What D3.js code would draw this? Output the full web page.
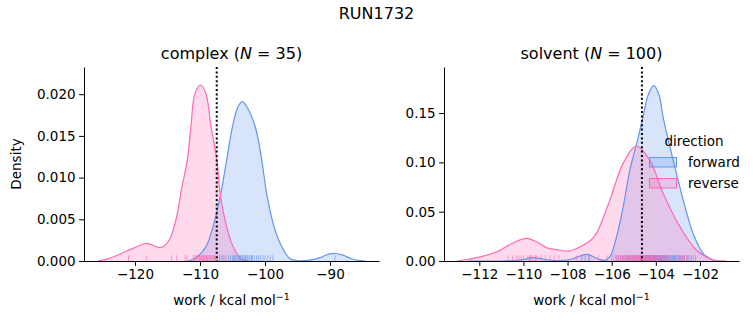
<!DOCTYPE html>
<html>
<head>
<meta charset="utf-8">
<script src="https://cdn.jsdelivr.net/npm/d3@7"></script>
<style>
 body { margin:0; background:#fff; }
 text { font-family: "DejaVu Sans", sans-serif; fill:#000; }
</style>
</head>
<body>
<script>
var complexFwdX=[-112.0,-110.8,-109.1,-108.0,-106.8,-105.9,-105.0,-104.2,-103.5,-102.8,-101.5,-100.5,-99.75,-98.6,-97.4,-96.2,-95.0,-93.0,-91.5,-90.3,-89.2,-88.0,-86.8,-85.5,-84.5]
var complexFwdY=[0,0.0003,0.0017,0.0041,0.0081,0.0121,0.0161,0.0184,0.0191,0.0185,0.0161,0.0121,0.0081,0.0041,0.0017,0.0003,0.00003,0.0001,0.0004,0.0008,0.0009,0.0007,0.0003,0.00005,0]
var complexRevX=[-125.7,-124.5,-123.0,-121.3,-120.0,-118.4,-117.3,-116.3,-115.5,-114.6,-113.6,-112.8,-111.95,-111.4,-110.77,-109.9,-109.1,-108.3,-107.4,-106.9,-105.9,-104.9,-104.0,-103.3,-102.5]
var complexRevY=[0,0.0002,0.0006,0.0012,0.0016,0.0021,0.0019,0.0016,0.0018,0.0027,0.0053,0.0088,0.0121,0.0161,0.0201,0.0211,0.0201,0.0161,0.0121,0.0081,0.0041,0.0017,0.0005,0.0001,0]

var solventFwdX=[-112.5,-110.5,-110.0,-109.56,-109.0,-108.4,-107.8,-107.14,-106.6,-106.35,-106.08,-105.78,-105.48,-105.18,-104.87,-104.58,-104.35,-104.09,-103.85,-103.67,-103.21,-102.76,-102.31,-101.86,-101.4,-100.9]
var solventFwdY=[0,0.0003,0.0015,0.0034,0.0015,0.0002,0.002,0.0068,0.002,0.0006,0.0044,0.0246,0.055,0.092,0.119,0.146,0.168,0.1778,0.168,0.146,0.102,0.062,0.028,0.0078,0.001,0]
var solventRevX=[-113.0,-112.7,-112.0,-111.2,-110.5,-109.86,-109.2,-108.95,-108.5,-107.9,-107.3,-106.95,-106.69,-106.08,-105.48,-104.87,-104.27,-103.67,-102.91,-102.16,-101.4,-100.8]
var solventRevY=[0,0.001,0.004,0.0094,0.018,0.023,0.017,0.0135,0.0115,0.0101,0.016,0.021,0.028,0.062,0.099,0.1166,0.102,0.0687,0.0348,0.0112,0.001,0]

var complexFwdRug=[-107.0,-106.5,-106.0,-105.6,-105.3,-105.0,-104.8,-104.7,-104.5,-104.3,-104.1,-103.9,-103.8,-103.7,-103.5,-103.3,-103.1,-103.0,-102.9,-102.7,-102.5,-102.3,-102.1,-102.0,-101.9,-101.6,-101.3,-101.0,-100.7,-100.3,-100.0,-99.6,-99.2,-98.8,-89.2]
var complexRevRug=[-121.0,-118.2,-114.4,-113.6,-112.3,-112.0,-111.0,-110.8,-110.6,-110.5,-110.3,-110.1,-110.0,-109.9,-109.8,-109.6,-109.5,-109.4,-109.3,-109.1,-109.0,-108.9,-108.8,-108.6,-108.5,-108.4,-108.2,-108.0,-107.9,-107.8,-107.6,-107.3,-107.0,-106.7,-106.3]
var solventFwdRug=[-109.7,-109.45,-107.35,-107.2,-107.05,
 -105.8,-105.7,-105.6,-105.5,-105.4,-105.3,-105.25,-105.2,-105.1,-105.05,-105.0,-104.95,-104.9,-104.85,-104.8,
 -104.75,-104.7,-104.65,-104.6,-104.55,-104.5,-104.48,-104.45,-104.4,-104.38,-104.35,-104.32,-104.3,-104.27,-104.25,
 -104.22,-104.2,-104.18,-104.15,-104.12,-104.1,-104.08,-104.05,-104.02,-104.0,-103.98,-103.95,-103.92,-103.9,-103.88,
 -103.85,-103.82,-103.8,-103.77,-103.75,-103.72,-103.7,-103.67,-103.65,-103.62,-103.6,-103.55,-103.5,-103.45,-103.4,
 -103.35,-103.3,-103.25,-103.2,-103.15,-103.1,-103.05,-103.0,-102.95,-102.9,-102.85,-102.8,-102.7,-102.6,-102.5,
 -102.4,-102.3,-102.2,-104.62,-104.42,-104.02,-103.58,-103.42,-103.12,-102.92,-104.88,-104.68,-104.52,-104.28,-103.96,-103.78,-103.52,-103.22,-102.75,-102.55]
var solventRevRug=[-110.7,-110.5,-110.3,-110.2,-110.1,-110.0,-109.8,-109.7,-109.6,-109.4,-109.2,-109.0,-108.8,-108.6,-108.4,
 -107.6,-107.0,-106.6,
 -106.2,-106.0,-105.9,-105.8,-105.72,-105.7,-105.62,-105.6,-105.55,-105.5,-105.48,-105.45,-105.4,-105.35,-105.32,-105.3,
 -105.25,-105.2,-105.18,-105.15,-105.1,-105.05,-105.02,-105.0,-104.95,-104.92,-104.9,-104.88,-104.85,-104.8,-104.75,-104.72,
 -104.7,-104.68,-104.65,-104.6,-104.58,-104.55,-104.52,-104.5,-104.45,-104.42,-104.4,-104.38,-104.35,-104.3,-104.28,-104.25,
 -104.22,-104.2,-104.15,-104.12,-104.1,-104.08,-104.05,-104.0,-103.95,-103.9,-103.85,-103.8,-103.7,-103.6,-103.5,-103.4,-103.3,-103.2,-103.0,-102.8,-102.6,-102.4,
 -104.98,-104.78,-104.62,-104.48,-104.32,-104.18,-103.98,-103.75,-103.45,-103.1,-102.9,-102.7]

var complexMean=-107.43
var solventMean=-104.63

var xTicksComplex=[-120,-110,-100,-90]
var xTicksSolvent=[-112,-110,-108,-106,-104,-102]
var yTicksComplex=[0,0.005,0.010,0.015,0.020]
var yTicksSolvent=[0,0.05,0.10,0.15]

var fwdColor="#6495ed", revColor="#ff69b4"

var svg=d3.select("body").append("svg").attr("width",753).attr("height",325)

svg.append("text").attr("x",376.5).attr("y",19).attr("text-anchor","middle")
 .style("font-size","16px").text("RUN1732")

function panel(opt){
 var x=d3.scaleLinear().domain(opt.xdom).range([opt.left,opt.right])
 var y=d3.scaleLinear().domain(opt.ydom).range([261,67])
 var g=svg.append("g")

 var cid="clip"+opt.name
 svg.append("clipPath").attr("id",cid).append("rect")
  .attr("x",opt.left).attr("y",60).attr("width",opt.right-opt.left).attr("height",201)
 var plot=g.append("g").attr("clip-path","url(#"+cid+")")

 function curve(xs,ys){ return xs.map(function(v,i){ return [v,ys[i]] }) }
 var area=d3.area().x(function(d){return x(d[0])}).y0(y(0)).y1(function(d){return y(d[1])}).curve(d3.curveCatmullRom.alpha(0.5))
 var line=d3.line().x(function(d){return x(d[0])}).y(function(d){return y(d[1])}).curve(d3.curveCatmullRom.alpha(0.5))

 var fwd=curve(opt.fx,opt.fy), rev=curve(opt.rx,opt.ry)
 plot.append("path").attr("d",area(fwd)).attr("fill",fwdColor).attr("fill-opacity",0.25)
 plot.append("path").attr("d",area(rev)).attr("fill",revColor).attr("fill-opacity",0.25)
 plot.append("path").attr("d",line(fwd)).attr("fill","none").attr("stroke",fwdColor).attr("stroke-width",1.2)
 plot.append("path").attr("d",line(rev)).attr("fill","none").attr("stroke",revColor).attr("stroke-width",1.2)

 g.selectAll(null).data(opt.fr).enter().append("line")
  .attr("x1",function(d){return x(d)}).attr("x2",function(d){return x(d)})
  .attr("y1",y(0)).attr("y2",y(0)-5.8).attr("stroke",fwdColor).attr("stroke-opacity",0.6)
 g.selectAll(null).data(opt.rr).enter().append("line")
  .attr("x1",function(d){return x(d)}).attr("x2",function(d){return x(d)})
  .attr("y1",y(0)).attr("y2",y(0)-5.8).attr("stroke",revColor).attr("stroke-opacity",0.6)

 g.append("line").attr("x1",x(opt.mean)).attr("x2",x(opt.mean)).attr("y1",67).attr("y2",261)
  .attr("stroke","#000").attr("stroke-width",2).attr("stroke-dasharray","2,2.4")

 g.append("g").attr("transform","translate(0,261)")
  .call(d3.axisBottom(x).tickValues(opt.xticks).tickFormat(d3.format("d")).tickSize(4.9).tickPadding(3.5).tickSizeOuter(0))
 g.append("g").attr("transform","translate("+opt.left+",0)")
  .call(d3.axisLeft(y).tickValues(opt.yticks).tickFormat(d3.format(opt.yfmt)).tickSize(4.9).tickPadding(3.5).tickSizeOuter(0))
 g.selectAll(".tick text").style("font-size","13.5px").style("font-family","DejaVu Sans")
 g.selectAll(".domain").attr("stroke-width",1)
 g.selectAll(".tick line").attr("stroke-width",1)

 var t=g.append("text").attr("x",(opt.left+opt.right)/2).attr("y",59).attr("text-anchor","middle").style("font-size","16px")
 t.append("tspan").text(opt.name+" (")
 t.append("tspan").style("font-style","italic").text("N")
 t.append("tspan").text(" = "+opt.n+")")

 var xl=g.append("text").attr("x",(opt.left+opt.right)/2).attr("y",305).attr("text-anchor","middle").style("font-size","13.5px")
 xl.append("tspan").text("work / kcal mol")
 xl.append("tspan").attr("dy",-5).style("font-size","9.5px").text("\u22121")
 return g
}

panel({left:84,right:379,xdom:[-127.85,-82.46],ydom:[0,0.02326],fx:complexFwdX,fy:complexFwdY,rx:complexRevX,ry:complexRevY,
 fr:complexFwdRug,rr:complexRevRug,mean:complexMean,xticks:xTicksComplex,yticks:yTicksComplex,yfmt:".3f",name:"complex",n:35})
panel({left:444,right:739,xdom:[-113.6,-100.23],ydom:[0,0.1967],fx:solventFwdX,fy:solventFwdY,rx:solventRevX,ry:solventRevY,
 fr:solventFwdRug,rr:solventRevRug,mean:solventMean,xticks:xTicksSolvent,yticks:yTicksSolvent,yfmt:".2f",name:"solvent",n:100})

svg.append("text").attr("x",21).attr("y",164).attr("text-anchor","middle").attr("transform","rotate(-90,21,164)")
 .style("font-size","13.5px").text("Density")

// legend
var lg=svg.append("g")
lg.append("text").attr("x",694).attr("y",146).attr("text-anchor","middle").style("font-size","13.5px").text("direction")
var labels=["forward","reverse"], cols=[fwdColor,revColor]
labels.forEach(function(l,i){
 var yy=157+i*21
 lg.append("rect").attr("x",649.5).attr("y",yy+0.5).attr("width",27).attr("height",9.5)
  .attr("fill",cols[i]).attr("fill-opacity",0.25).attr("stroke",cols[i]).attr("stroke-width",1)
 lg.append("text").attr("x",688).attr("y",yy+10).style("font-size","13.5px").text(l)
})
</script>
</body>
</html>
